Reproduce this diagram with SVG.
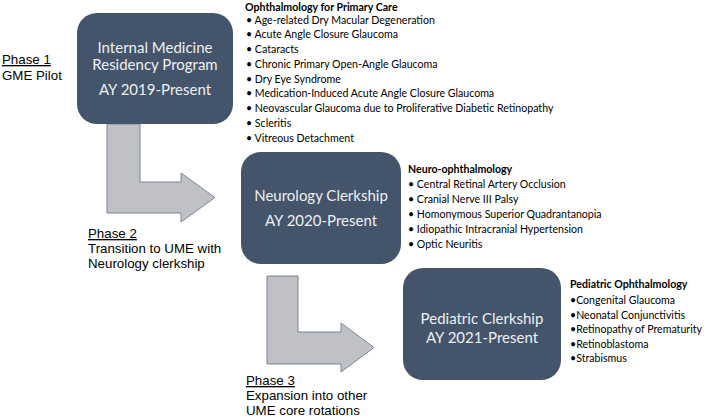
<svg xmlns="http://www.w3.org/2000/svg" width="708" height="419" viewBox="0 0 708 419">
<style>
.box{fill:#44546A}
.bt{font-family:Lato,"Open Sans",sans-serif;font-size:15px;fill:#EEF0F3;text-anchor:middle}
.arr{fill:#BFC1C6;stroke:#7D8596;stroke-width:1}
.ph{font-family:"Liberation Sans",Arial,sans-serif;font-size:13.3px;fill:#000}
.u{text-decoration:underline}
.lt{font-family:Lato,"Open Sans",sans-serif;font-size:10.6px;fill:#000}
.lh{font-weight:bold}
</style>
<rect width="708" height="419" fill="#fff"/>
<g id="connectors">
<path class="arr" d="M107,124 L140,124 L140,182 L181,182 L181,173 L215,197.5 L181,222 L181,213 L107,213 Z"/>
<path class="arr" d="M267,276 L298,276 L298,332 L341,332 L341,323 L374,347.5 L341,372 L341,364 L267,364 Z"/>
</g>
<g id="box1">
<rect class="box" x="77" y="13" width="156" height="111" rx="20"/>
<text class="bt" x="155" y="53">Internal Medicine</text>
<text class="bt" x="155" y="70">Residency Program</text>
<text class="bt" x="155" y="95">AY 2019-Present</text>
</g>
<g id="box2">
<rect class="box" x="241" y="152" width="160" height="112" rx="20"/>
<text class="bt" x="321" y="201">Neurology Clerkship</text>
<text class="bt" x="321" y="226">AY 2020-Present</text>
</g>
<g id="box3">
<rect class="box" x="403" y="268" width="158" height="112" rx="20"/>
<text class="bt" x="482" y="324">Pediatric Clerkship</text>
<text class="bt" x="482" y="343">AY 2021-Present</text>
</g>
<g id="phase1">
<text class="ph u" x="2" y="64">Phase 1</text>
<text class="ph" x="2" y="80">GME Pilot</text>
</g>
<g id="phase2">
<text class="ph u" x="88" y="238">Phase 2</text>
<text class="ph" x="88" y="253">Transition to UME with</text>
<text class="ph" x="88" y="268">Neurology clerkship</text>
</g>
<g id="phase3">
<text class="ph u" x="246" y="385">Phase 3</text>
<text class="ph" x="246" y="400">Expansion into other</text>
<text class="ph" x="246" y="415">UME core rotations</text>
</g>
<g id="list1">
<text class="lt lh" x="245" y="10.5">Ophthalmology for Primary Care</text>
<text class="lt" x="246" y="23.5">• Age-related Dry Macular Degeneration</text>
<text class="lt" x="246" y="38">• Acute Angle Closure Glaucoma</text>
<text class="lt" x="246" y="53">• Cataracts</text>
<text class="lt" x="246" y="67.5">• Chronic Primary Open-Angle Glaucoma</text>
<text class="lt" x="246" y="82.5">• Dry Eye Syndrome</text>
<text class="lt" x="246" y="97">• Medication-Induced Acute Angle Closure Glaucoma</text>
<text class="lt" x="246" y="112">• Neovascular Glaucoma due to Proliferative Diabetic Retinopathy</text>
<text class="lt" x="246" y="127">• Scleritis</text>
<text class="lt" x="246" y="141.5">• Vitreous Detachment</text>
</g>
<g id="list2">
<text class="lt lh" x="408" y="173">Neuro-ophthalmology</text>
<text class="lt" x="408" y="188">• Central Retinal Artery Occlusion</text>
<text class="lt" x="408" y="203">• Cranial Nerve III Palsy</text>
<text class="lt" x="408" y="218">• Homonymous Superior Quadrantanopia</text>
<text class="lt" x="408" y="233">• Idiopathic Intracranial Hypertension</text>
<text class="lt" x="408" y="247.5">• Optic Neuritis</text>
</g>
<g id="list3">
<text class="lt lh" x="570" y="288">Pediatric Ophthalmology</text>
<text class="lt" x="570" y="304">•Congenital Glaucoma</text>
<text class="lt" x="570" y="318.5">•Neonatal Conjunctivitis</text>
<text class="lt" x="570" y="333">•Retinopathy of Prematurity</text>
<text class="lt" x="570" y="347.5">•Retinoblastoma</text>
<text class="lt" x="570" y="362">•Strabismus</text>
</g>
</svg>
